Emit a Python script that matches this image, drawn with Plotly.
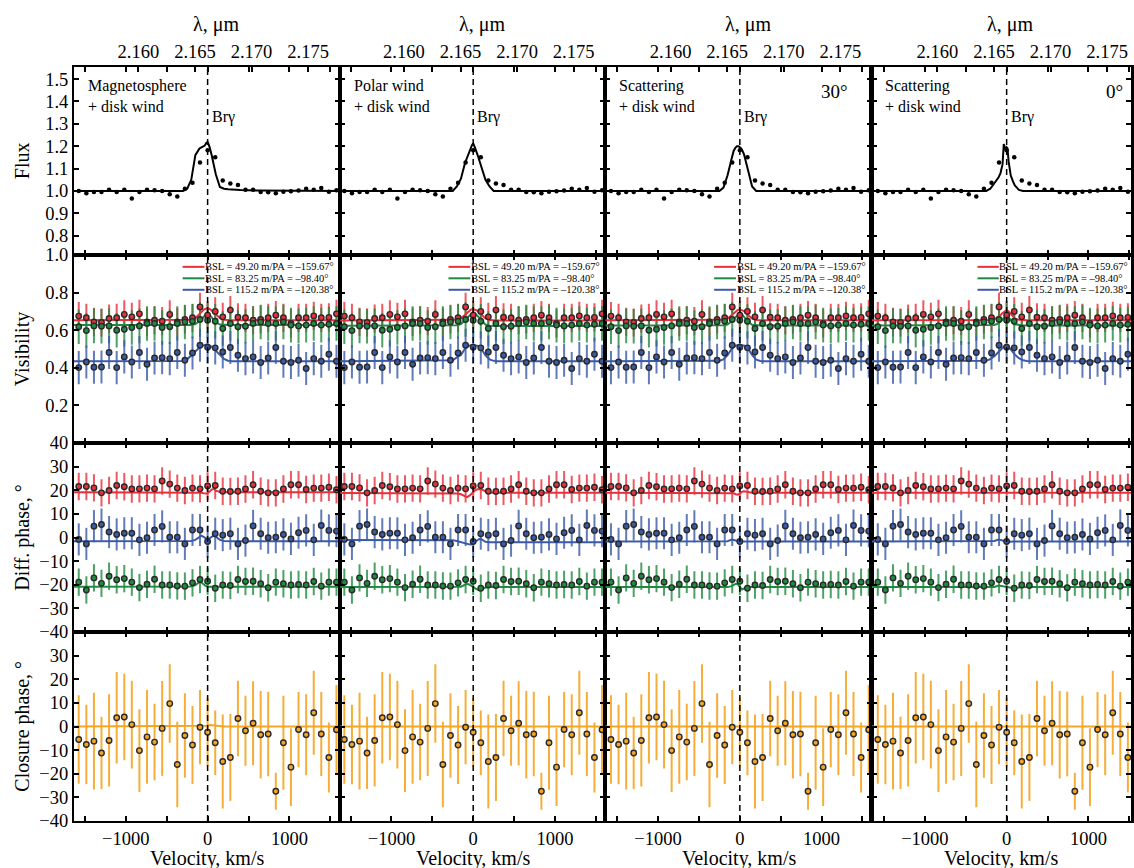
import plotly.graph_objects as go

# ---------------- observed data (same in all four columns) ----------------
V_OBS = [-1576, -1483, -1390, -1298, -1205, -1112, -1019, -927, -834, -741,
         -649, -556, -463, -371, -278, -185, -93, 0, 93, 185,
         278, 371, 463, 556, 649, 741, 834, 927, 1019, 1112,
         1205, 1298, 1390, 1483, 1576]

FLUX_OBS = [1.000, 0.990, 0.995, 0.995, 1.005, 0.995, 1.005, 0.967, 0.995, 1.005,
            1.003, 1.000, 0.985, 0.975, 1.010, 1.037, 1.127, 1.182, 1.151, 1.047,
            1.034, 1.027, 1.006, 1.006, 0.995, 0.994, 0.990, 0.997, 0.999, 1.002,
            1.010, 1.006, 1.013, 0.997, 1.003]

VIS_RED = [0.675, 0.666, 0.644, 0.641, 0.662, 0.666, 0.684, 0.671, 0.687, 0.644,
           0.653, 0.648, 0.684, 0.644, 0.657, 0.666, 0.724, 0.680, 0.700, 0.671,
           0.707, 0.669, 0.666, 0.653, 0.657, 0.666, 0.680, 0.666, 0.636, 0.666,
           0.666, 0.676, 0.666, 0.668, 0.687]
VIS_GREEN = [0.618, 0.598, 0.623, 0.621, 0.623, 0.600, 0.605, 0.614, 0.623, 0.636,
             0.636, 0.614, 0.618, 0.636, 0.644, 0.648, 0.657, 0.653, 0.648, 0.609,
             0.636, 0.618, 0.621, 0.636, 0.644, 0.636, 0.636, 0.644, 0.627, 0.623,
             0.627, 0.636, 0.627, 0.632, 0.636]
VIS_BLUE = [0.401, 0.431, 0.403, 0.404, 0.481, 0.401, 0.458, 0.431, 0.481, 0.419,
            0.452, 0.454, 0.449, 0.481, 0.440, 0.479, 0.520, 0.509, 0.506, 0.484,
            0.508, 0.467, 0.449, 0.458, 0.428, 0.452, 0.508, 0.435, 0.428, 0.440,
            0.396, 0.449, 0.435, 0.472, 0.435]
VIS_ERR_RED, VIS_ERR_GREEN, VIS_ERR_BLUE = 0.075, 0.092, 0.088

DP_RED = [21.6, 21.6, 21.0, 18.9, 19.9, 22.0, 21.5, 20.5, 20.6, 20.9,
          20.6, 23.9, 22.6, 20.9, 19.9, 20.9, 20.6, 21.8, 22.0, 19.6,
          19.5, 19.6, 20.5, 22.3, 19.6, 18.9, 18.9, 20.5, 22.3, 22.3,
          20.3, 20.9, 20.9, 21.3, 20.2]
DP_BLUE = [-0.8, -2.7, 4.8, 5.5, 2.3, 1.3, 1.8, 1.8, -1.0, -0.1,
           3.2, 4.7, 0.1, 0.1, -2.7, 3.2, 3.2, -1.7, 1.6, 1.0,
           1.6, -2.7, -1.3, 4.9, 1.6, -0.1, 0.1, 1.3, -0.6, 2.0,
           3.0, -1.0, 5.1, 3.0, 2.7]
DP_GREEN = [-18.9, -22.2, -17.1, -19.4, -16.4, -17.9, -17.4, -18.9, -21.2, -19.8,
            -17.7, -20.1, -20.1, -20.5, -20.6, -19.2, -17.8, -18.5, -21.5, -20.1,
            -20.3, -17.8, -18.6, -18.5, -19.6, -21.3, -18.9, -19.6, -20.1, -19.9,
            -20.1, -18.6, -20.6, -18.9, -18.9]
DP_ERR_RED, DP_ERR_BLUE, DP_ERR_GREEN = 5.8, 6.8, 5.8

CP_OBS = [-5.5, -7.6, -6.2, -11.2, -5.9, 3.7, 4.0, 0.8, -10.2, -4.4,
          -6.6, -0.8, 9.7, -16.1, -3.8, -7.8, -0.3, -2.4, -6.9, -14.8,
          -13.1, 3.4, -1.8, 1.4, -3.5, -3.2, -27.4, -6.9, -17.2, -1.3,
          -3.5, 5.8, -3.2, -13.1, -1.4]
CP_ERR = [18.7, 16.8, 20.5, 15.3, 19.5, 19.4, 18.3, 18.6, 17.5, 19.8,
          16.2, 20.1, 16.6, 18.1, 17.9, 16.5, 15.7, 14.5, 13.7, 19.9,
          18.4, 16.0, 14.8, 17.8, 18.5, 17.9, 7.8, 19.9, 16.5, 15.9,
          17.1, 17.8, 17.8, 14.8, 19.0]

# ---------------- model curves ----------------
V_FLUX_MODEL = [-1700, -600, -400, -300, -250, -200, -150, -100, -75, -50, -35, -15, 0,
                10, 25, 50, 75, 100, 150, 200, 250, 300, 400, 600, 1700]
FLUX_MODEL_MAG = [1.0, 0.999, 0.997, 1.0, 1.01, 1.05, 1.16, 1.19, 1.195, 1.20, 1.203, 1.215, 1.218,
                  1.21, 1.195, 1.16, 1.12, 1.075, 1.018, 1.01, 1.008, 1.006, 1.004, 1.002, 1.0]
FLUX_MODEL_POLAR = [1.0, 1.0, 1.0, 1.0, 1.0, 1.02, 1.055, 1.125, 1.15, 1.175, 1.19, 1.205, 1.213,
                    1.205, 1.19, 1.165, 1.135, 1.10, 1.05, 1.02, 1.0, 1.0, 1.0, 1.0, 1.0]
FLUX_MODEL_SCAT30 = [1.0, 1.0, 1.0, 1.0, 1.0, 1.015, 1.07, 1.145, 1.18, 1.195, 1.20, 1.20, 1.197,
                     1.192, 1.185, 1.165, 1.13, 1.09, 1.02, 1.0, 1.0, 1.0, 1.0, 1.0, 1.0]
FLUX_MODEL_SCAT0 = [1.0, 1.0, 1.0, 1.0, 1.0, 1.01, 1.035, 1.06, 1.08, 1.12, 1.21, 1.185, 1.195,
                    1.19, 1.13, 1.07, 1.045, 1.025, 1.005, 1.0, 1.0, 1.0, 1.0, 1.0, 1.0]

V_MODEL = [-1700, -300, -250, -200, -150, -100, -75, -50, -25, 0,
           25, 50, 75, 100, 150, 200, 250, 300, 1700]

VIS_MODEL_RED = [
    [0.653, 0.653, 0.654, 0.656, 0.664, 0.689, 0.700, 0.709, 0.714, 0.716, 0.713, 0.706, 0.696, 0.685, 0.664, 0.656, 0.654, 0.653, 0.653],
    [0.652, 0.652, 0.653, 0.655, 0.663, 0.682, 0.694, 0.704, 0.710, 0.712, 0.710, 0.704, 0.694, 0.682, 0.663, 0.654, 0.652, 0.652, 0.652],
    [0.653, 0.653, 0.653, 0.655, 0.662, 0.680, 0.692, 0.702, 0.708, 0.710, 0.708, 0.702, 0.692, 0.680, 0.661, 0.654, 0.653, 0.653, 0.653],
    [0.653, 0.653, 0.653, 0.654, 0.658, 0.670, 0.680, 0.692, 0.702, 0.707, 0.700, 0.686, 0.672, 0.662, 0.655, 0.653, 0.653, 0.653, 0.653],
]
VIS_MODEL_GREEN = [
    [0.627, 0.627, 0.627, 0.628, 0.632, 0.645, 0.656, 0.670, 0.683, 0.694, 0.682, 0.668, 0.655, 0.642, 0.630, 0.627, 0.627, 0.627, 0.627],
    [0.623, 0.623, 0.624, 0.626, 0.633, 0.650, 0.662, 0.676, 0.688, 0.694, 0.688, 0.676, 0.662, 0.648, 0.630, 0.624, 0.623, 0.623, 0.623],
    [0.625, 0.625, 0.625, 0.626, 0.630, 0.645, 0.657, 0.670, 0.682, 0.689, 0.684, 0.672, 0.658, 0.645, 0.629, 0.625, 0.625, 0.625, 0.625],
    [0.625, 0.625, 0.625, 0.625, 0.628, 0.636, 0.644, 0.656, 0.670, 0.680, 0.668, 0.652, 0.640, 0.632, 0.627, 0.625, 0.625, 0.625, 0.625],
]
VIS_MODEL_BLUE = [
    [0.435, 0.436, 0.445, 0.466, 0.490, 0.508, 0.515, 0.520, 0.523, 0.524, 0.520, 0.512, 0.502, 0.490, 0.466, 0.447, 0.438, 0.435, 0.435],
    [0.435, 0.436, 0.440, 0.455, 0.468, 0.502, 0.512, 0.518, 0.520, 0.520, 0.520, 0.518, 0.512, 0.500, 0.466, 0.445, 0.437, 0.435, 0.435],
    [0.435, 0.435, 0.437, 0.445, 0.468, 0.500, 0.512, 0.519, 0.520, 0.520, 0.520, 0.519, 0.514, 0.502, 0.468, 0.443, 0.436, 0.435, 0.435],
    [0.435, 0.435, 0.438, 0.446, 0.462, 0.484, 0.496, 0.508, 0.517, 0.520, 0.512, 0.498, 0.484, 0.470, 0.451, 0.440, 0.436, 0.435, 0.435],
]
DP_MODEL_RED = [
    [19.2, 19.2, 19.2, 19.2, 19.1, 19.0, 18.9, 18.7, 18.5, 18.6, 19.5, 20.3, 20.6, 19.8, 19.3, 19.2, 19.2, 19.2, 19.2],
    [18.9, 18.9, 18.8, 18.6, 18.3, 17.5, 17.1, 17.6, 18.5, 19.3, 20.0, 20.4, 20.6, 20.5, 19.5, 18.9, 18.9, 18.9, 18.9],
    [18.9, 18.9, 18.9, 18.9, 18.9, 18.9, 18.7, 18.3, 18.1, 18.6, 19.3, 19.6, 19.4, 19.0, 18.9, 18.9, 18.9, 18.9, 18.9],
    [18.9, 18.9, 18.9, 18.9, 18.9, 18.9, 18.9, 18.9, 18.8, 18.8, 19.0, 19.0, 18.9, 18.9, 18.9, 18.9, 18.9, 18.9, 18.9],
]
DP_MODEL_BLUE = [
    [-1.6, -1.6, -1.6, -1.5, -1.0, 0.0, 0.8, 0.3, -0.4, -0.8, -0.3, 0.3, 0.8, 0.3, -1.0, -1.5, -1.6, -1.6, -1.6],
    [-1.0, -1.0, -1.2, -1.5, -2.0, -2.6, -2.8, -2.9, -3.0, -2.7, -1.8, -1.0, -0.6, -0.7, -1.8, -2.0, -2.0, -2.0, -2.0],
    [-1.7, -1.7, -1.7, -1.7, -1.6, -0.9, -1.0, -1.3, -1.6, -1.8, -1.7, -1.7, -1.7, -1.7, -1.7, -1.7, -1.7, -1.7, -1.7],
    [-1.7, -1.7, -1.7, -1.7, -1.5, -0.9, -1.0, -1.3, -1.6, -1.9, -1.8, -1.7, -1.7, -1.7, -1.7, -1.7, -1.7, -1.7, -1.7],
]
DP_MODEL_GREEN = [
    [-20.8, -20.8, -20.8, -20.7, -20.2, -18.8, -19.0, -19.8, -20.5, -20.8, -20.8, -20.8, -20.8, -20.8, -20.8, -20.8, -20.8, -20.8, -20.8],
    [-21.0, -21.0, -21.0, -21.0, -20.8, -20.0, -19.6, -19.9, -20.5, -21.0, -21.6, -22.1, -22.4, -22.0, -21.2, -21.0, -21.0, -21.0, -21.0],
    [-21.0, -21.0, -21.0, -21.0, -21.0, -20.6, -20.1, -19.6, -19.8, -20.8, -22.0, -21.6, -21.1, -21.0, -21.0, -21.0, -21.0, -21.0, -21.0],
    [-21.0, -21.0, -21.0, -21.0, -20.9, -20.3, -20.4, -20.7, -20.9, -21.0, -21.1, -21.3, -21.5, -21.5, -21.2, -21.0, -21.0, -21.0, -21.0],
]
CP_MODEL = [
    [0.0, 0.0, 0.0, 0.0, 0.0, 0.0, 0.0, 0.1, 0.2, 0.3, 0.6, 0.5, 0.3, 0.1, 0.0, 0.0, 0.0, 0.0, 0.0],
    [0.0, 0.0, 0.0, 0.0, 0.0, 0.0, 0.0, 0.1, 0.2, 0.3, 0.3, 0.2, 0.1, 0.0, 0.0, 0.0, 0.0, 0.0, 0.0],
    [0.0, 0.0, 0.0, 0.0, 0.0, 0.0, 0.0, 0.1, 0.1, 0.2, 0.2, 0.1, 0.0, 0.0, 0.0, 0.0, 0.0, 0.0, 0.0],
    [0.0, 0.0, 0.0, 0.0, 0.0, 0.0, 0.0, 0.0, 0.1, 0.1, 0.1, 0.0, 0.0, 0.0, 0.0, 0.0, 0.0, 0.0, 0.0],
]
FLUX_MODELS = [FLUX_MODEL_MAG, FLUX_MODEL_POLAR, FLUX_MODEL_SCAT30, FLUX_MODEL_SCAT0]

COL_LABELS = ["Magnetosphere<br>+ disk wind", "Polar wind<br>+ disk wind",
              "Scattering<br>+ disk wind", "Scattering<br>+ disk wind"]
ANGLE_LABELS = ["", "", "30°", "0°"]
LEGEND_TEXT = ["BSL = 49.20 m/PA = –159.67°", "BSL = 83.25 m/PA = –98.40°",
               "BSL = 115.2 m/PA = –120.38°"]
WAVE_TICKS = [2.160, 2.165, 2.170, 2.175]
LAMBDA_BRG = 2.16612
C_KMS = 299792.458
BRG_V = 0.0

# ---------------- styling ----------------
FONT = "Liberation Serif, DejaVu Serif, Times New Roman, serif"
RED, GREEN, BLUE, ORANGE = "#e8303a", "#1f8a3f", "#3a5aa8", "#f5a524"
RED_E, GREEN_E, BLUE_E, ORANGE_E = ("rgba(232,48,58,0.8)", "rgba(31,138,63,0.8)",
                                    "rgba(58,90,168,0.8)", "rgba(245,165,36,0.9)")
W, H = 1134, 868
ML, MR, MT, MB = 74, 0, 67, 47
PW, PH = W - ML - MR, H - MT - MB
COL_PX = [(74, 341), (341, 607), (607, 874), (874, 1134)]
ROW_PX = [(67, 255), (255, 443), (443, 632), (632, 821)]
X_RANGES = [[-1634, 1622], [-1626, 1618], [-1643, 1613], [-1650, 1521]]
Y_RANGES = [[0.714, 1.554], [0.0, 1.0], [-40, 40], [-40, 40]]
Y_TICKS = [[0.8, 0.9, 1.0, 1.1, 1.2, 1.3, 1.4, 1.5], [0.2, 0.4, 0.6, 0.8, 1.0],
           [-40, -30, -20, -10, 0, 10, 20, 30, 40], [-40, -30, -20, -10, 0, 10, 20, 30]]
Y_FORMATS = [".1f", ".1f", "d", "d"]
Y_TITLES = ["Flux", "Visibility", "Diff. phase, °", "Closure phase, °"]

wave_v = [C_KMS * (w / LAMBDA_BRG - 1.0) for w in WAVE_TICKS]


def xn(i):
    return "x" if i == 1 else f"x{i}"


def yn(i):
    return "y" if i == 1 else f"y{i}"


fig = go.Figure()
layout = dict(width=W, height=H, margin=dict(l=ML, r=MR, t=MT, b=MB),
              paper_bgcolor="white", plot_bgcolor="white", showlegend=False,
              font=dict(family=FONT, color="black"))
annotations, shapes = [], []


def xdom(c):
    a, b = COL_PX[c]
    return [(a - ML) / PW, (b - ML) / PW]


def ydom(r):
    a, b = ROW_PX[r]
    return [(H - MB - b) / PH, (H - MB - a) / PH]


for r in range(4):
    for c in range(4):
        i = r * 4 + c + 1
        xk = "xaxis" if i == 1 else f"xaxis{i}"
        yk = "yaxis" if i == 1 else f"yaxis{i}"
        layout[xk] = dict(domain=xdom(c), anchor=yn(i), range=X_RANGES[c],
                          showline=True, linecolor="black", linewidth=1.5, mirror="ticks",
                          ticks="inside", ticklen=5, tickwidth=1.5, tickcolor="black",
                          tickvals=[-1500, -1000, -500, 0, 500, 1000, 1500],
                          ticktext=["", "−1000", "", "0", "", "1000", ""],
                          showticklabels=(r == 3), showgrid=False, zeroline=False,
                          tickfont=dict(size=18.5, family=FONT))
        layout[yk] = dict(domain=ydom(r), anchor=xn(i), range=Y_RANGES[r],
                          showline=True, linecolor="black",
                          linewidth=(3 if c == 3 else 2), mirror="ticks",
                          ticks="inside", ticklen=5, tickwidth=1.5, tickcolor="black",
                          tickvals=Y_TICKS[r], tickformat=Y_FORMATS[r],
                          showticklabels=(c == 0),
                          showgrid=False, zeroline=False,
                          tickfont=dict(size=18.5, family=FONT))
        shapes.append(dict(type="line", xref=xn(i), yref=f"{yn(i)} domain",
                           x0=BRG_V, x1=BRG_V, y0=0, y1=1,
                           line=dict(color="black", width=1.5, dash="6px,4px")))

# top wavelength axes
for c in range(4):
    i = 17 + c
    layout[f"xaxis{i}"] = dict(overlaying=xn(c + 1), anchor=yn(c + 1), side="top",
                               range=X_RANGES[c], tickvals=wave_v,
                               ticktext=[f"{w:.3f}" for w in WAVE_TICKS],
                               ticks="inside", ticklen=5, tickwidth=1.5, tickcolor="black",
                               ticklabelstandoff=4,
                               showline=False, showgrid=False, zeroline=False,
                               tickfont=dict(size=18.5, family=FONT))
    fig.add_trace(go.Scatter(x=[], y=[], xaxis=f"x{i}", yaxis=yn(c + 1),
                             showlegend=False, hoverinfo="skip"))


def err_trace(ax, ay, y, color, value=None, array=None):
    ed = dict(color=color, thickness=2, width=0, visible=True)
    if array is not None:
        ed.update(type="data", array=array)
    else:
        ed.update(type="constant", value=value)
    return go.Scatter(x=V_OBS, y=y, mode="markers", xaxis=ax, yaxis=ay,
                      marker=dict(size=1, color="rgba(0,0,0,0)"),
                      error_y=ed, showlegend=False, hoverinfo="skip")


def line_trace(ax, ay, vx, y, color):
    return go.Scatter(x=vx, y=y, mode="lines", xaxis=ax, yaxis=ay,
                      line=dict(color=color, width=2), showlegend=False, hoverinfo="skip")


def dot_trace(ax, ay, y, color):
    return go.Scatter(x=V_OBS, y=y, mode="markers", xaxis=ax, yaxis=ay,
                      marker=dict(size=5.5, color=color, line=dict(color="#2a2a2a", width=1.4)),
                      showlegend=False, hoverinfo="skip")


for c in range(4):
    # flux
    ax, ay = xn(c + 1), yn(c + 1)
    fig.add_trace(line_trace(ax, ay, V_FLUX_MODEL, FLUX_MODELS[c], "black"))
    fig.add_trace(go.Scatter(x=V_OBS, y=FLUX_OBS, mode="markers", xaxis=ax, yaxis=ay,
                             marker=dict(size=4.5, color="black"), showlegend=False))
    # visibility
    ax, ay = xn(c + 5), yn(c + 5)
    series = [(VIS_RED, VIS_ERR_RED, RED, RED_E, VIS_MODEL_RED[c]),
              (VIS_GREEN, VIS_ERR_GREEN, GREEN, GREEN_E, VIS_MODEL_GREEN[c]),
              (VIS_BLUE, VIS_ERR_BLUE, BLUE, BLUE_E, VIS_MODEL_BLUE[c])]
    for y, e, col, ecol, m in series:
        fig.add_trace(err_trace(ax, ay, y, ecol, value=e))
    for y, e, col, ecol, m in series:
        fig.add_trace(line_trace(ax, ay, V_MODEL, m, col))
    for y, e, col, ecol, m in series:
        fig.add_trace(dot_trace(ax, ay, y, col))
    # diff phase
    ax, ay = xn(c + 9), yn(c + 9)
    series = [(DP_RED, DP_ERR_RED, RED, RED_E, DP_MODEL_RED[c]),
              (DP_BLUE, DP_ERR_BLUE, BLUE, BLUE_E, DP_MODEL_BLUE[c]),
              (DP_GREEN, DP_ERR_GREEN, GREEN, GREEN_E, DP_MODEL_GREEN[c])]
    for y, e, col, ecol, m in series:
        fig.add_trace(err_trace(ax, ay, y, ecol, value=e))
    for y, e, col, ecol, m in series:
        fig.add_trace(line_trace(ax, ay, V_MODEL, m, col))
    for y, e, col, ecol, m in series:
        fig.add_trace(dot_trace(ax, ay, y, col))
    # closure phase
    ax, ay = xn(c + 13), yn(c + 13)
    fig.add_trace(err_trace(ax, ay, CP_OBS, ORANGE_E, array=CP_ERR))
    fig.add_trace(line_trace(ax, ay, V_MODEL, CP_MODEL[c], ORANGE))
    fig.add_trace(dot_trace(ax, ay, CP_OBS, ORANGE))

    # texts in flux panel
    annotations.append(dict(xref=f"{xn(c + 1)} domain", yref=f"{yn(c + 1)} domain",
                            x=0.045, y=0.955, xanchor="left", yanchor="top", align="left",
                            text=COL_LABELS[c], showarrow=False,
                            font=dict(size=16, family=FONT)))
    annotations.append(dict(xref=xn(c + 1), yref=f"{yn(c + 1)} domain",
                            x=BRG_V, y=0.735, xanchor="left", yanchor="middle", xshift=2,
                            text="Brγ", showarrow=False, font=dict(size=16, family=FONT)))
    if ANGLE_LABELS[c]:
        annotations.append(dict(xref=f"{xn(c + 1)} domain", yref=f"{yn(c + 1)} domain",
                                x=(0.918 if c == 2 else 0.977), y=0.87,
                                xanchor="right", yanchor="middle",
                                text=ANGLE_LABELS[c], showarrow=False,
                                font=dict(size=19, family=FONT)))
    # legend in visibility panel
    for j, (txt, col) in enumerate(zip(LEGEND_TEXT, [RED, GREEN, BLUE])):
        yy = 0.937 - j * 0.061
        shapes.append(dict(type="line", xref=f"{xn(c + 5)} domain", yref=f"{yn(c + 5)} domain",
                           x0=0.408, x1=0.49, y0=yy, y1=yy, line=dict(color=col, width=2)))
        annotations.append(dict(xref=f"{xn(c + 5)} domain", yref=f"{yn(c + 5)} domain",
                                x=0.485, y=yy, xanchor="left", yanchor="middle",
                                text=txt, showarrow=False, font=dict(size=10.5, family=FONT)))
    # axis titles
    annotations.append(dict(xref=f"{xn(c + 13)} domain", yref="paper", x=0.5,
                            y=-(859 - 821) / PH, xanchor="center", yanchor="middle",
                            text="Velocity, km/s", showarrow=False,
                            font=dict(size=20, family=FONT)))
    annotations.append(dict(xref=f"{xn(c + 1)} domain", yref="paper", x=0.535,
                            y=1 + (67 - 25) / PH, xanchor="center", yanchor="middle",
                            text="λ, μm", showarrow=False, font=dict(size=20, family=FONT)))

for r in range(4):
    a, b = ROW_PX[r]
    annotations.append(dict(xref="paper", yref="paper", x=(22 - ML) / PW,
                            y=(H - MB - (a + b) / 2) / PH, xanchor="center", yanchor="middle",
                            textangle=-90, text=Y_TITLES[r], showarrow=False,
                            font=dict(size=20, family=FONT)))

layout["annotations"] = annotations
layout["shapes"] = shapes
fig.update_layout(**layout)
fig.write_html("out.html", config={"displayModeBar": False},
               post_script="document.body.style.margin='0px';document.body.style.overflow='hidden';")
